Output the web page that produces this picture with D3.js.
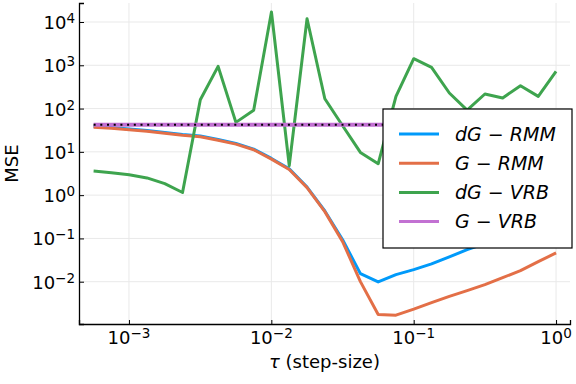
<!DOCTYPE html>
<html>
<head>
<meta charset="utf-8">
<script src="https://cdn.jsdelivr.net/npm/d3@7"></script>
<style>
    body { margin: 0; background: white; }
    text { font-family: "DejaVu Sans", sans-serif; fill: black; }
</style>
</head>
<body>
<div id="chart"></div>
<script>
// step sizes (x values)
var tau = [0.0005644, 0.0007525, 0.001003, 0.001338, 0.001784, 0.002378, 0.003171, 0.004228,
    0.005638, 0.007517, 0.01002, 0.01336, 0.01782, 0.02376, 0.03168, 0.04224, 0.05631, 0.07508,
    0.1001, 0.1335, 0.1780, 0.2373, 0.3164, 0.4219, 0.5625, 0.75, 1.0];

var dgRMM = [38.5, 36.5, 33.8, 31.2, 28.0, 25.2, 23.2, 19.3, 15.7, 11.6, 7.05, 4.05, 1.54, 0.43,
    0.093, 0.0154, 0.00989, 0.0146, 0.0190, 0.0258, 0.0374, 0.0551, 0.0759, 0.104, 0.144, 0.187, 0.244];
var gRMM = [37.2, 35.3, 32.6, 30.1, 27.0, 24.3, 22.4, 18.6, 15.1, 11.2, 6.8, 3.9, 1.49, 0.416,
    0.0844, 0.01005, 0.00174, 0.00169, 0.00233, 0.00329, 0.0046, 0.00623, 0.00857, 0.01244, 0.018, 0.0291, 0.0462];
var dgVRB = [3.6, 3.3, 2.95, 2.5, 1.85, 1.15, 160, 944, 48, 91, 17000, 4.8, 11900, 169,
    40, 9.7, 5.3, 191, 1420, 895, 229, 92, 217, 176, 337, 191, 720];
var gVRB = [42.5, 42.5, 42.5, 42.5, 42.5, 42.5, 42.5, 42.5, 42.5, 42.5, 42.5, 42.5, 42.5, 42.5,
    42.5, 42.5, 42.5, 42.5, 42.5, 42.5, 42.5, 42.5, 42.5, 42.5, 42.5, 42.5, 42.5];
// black dotted reference drawn on top of G-VRB (not in legend)
var refLine = [42.5, 42.5, 42.5, 42.5, 42.5, 42.5, 42.5, 42.5, 42.5, 42.5, 42.5, 42.5, 42.5, 42.5,
    42.5, 42.5, 42.5, 42.5, 42.5, 42.5, 42.5, 42.5, 42.5, 42.5, 42.5, 42.5, 42.5];

var seriesNames = ["dG \u2212 RMM", "G \u2212 RMM", "dG \u2212 VRB", "G \u2212 VRB"];
var seriesColors = ["#009afa", "#e36f47", "#3ea44e", "#c271d2"];

var xTicks = [1e-3, 1e-2, 1e-1, 1];
var xTickExp = ["\u22123", "\u22122", "\u22121", "0"];
var yTicks = [1e-2, 1e-1, 1, 10, 100, 1000, 10000];
var yTickExp = ["\u22122", "\u22121", "0", "1", "2", "3", "4"];

var svgWidth = 576;
var svgHeight = 384;

var margin = {
    top: 3,
    right: 6,
    bottom: 60,
    left: 79
};

var width = svgWidth - margin.left - margin.right;
var height = svgHeight - margin.top - margin.bottom;

var svg = d3.select("#chart")
    .append("svg")
    .attr("width", svgWidth)
    .attr("height", svgHeight);

var chartGroup = svg.append("g")
    .attr("transform", `translate(${margin.left}, ${margin.top})`);

var xLogScale = d3.scaleLog()
    .domain([Math.pow(10, -3.351), Math.pow(10, 0.098)])
    .range([0, width]);

var yLogScale = d3.scaleLog()
    .domain([Math.pow(10, -2.977), Math.pow(10, 4.439)])
    .range([height, 0]);

// grid lines
chartGroup.selectAll(".xgrid")
    .data(xTicks)
    .enter()
    .append("line")
    .attr("x1", d => xLogScale(d))
    .attr("x2", d => xLogScale(d))
    .attr("y1", 0)
    .attr("y2", height)
    .attr("stroke", "#e9e9e9")
    .attr("stroke-width", 1);

chartGroup.selectAll(".ygrid")
    .data(yTicks)
    .enter()
    .append("line")
    .attr("x1", 0)
    .attr("x2", width)
    .attr("y1", d => yLogScale(d))
    .attr("y2", d => yLogScale(d))
    .attr("stroke", "#e9e9e9")
    .attr("stroke-width", 1);

// axes (ticks point inward)
var bottomAxis = d3.axisBottom(xLogScale).tickValues(xTicks).tickSize(-4).tickFormat("");
var leftAxis = d3.axisLeft(yLogScale).tickValues(yTicks).tickSize(-5).tickFormat("");

var xAxisG = chartGroup.append("g")
    .attr("transform", `translate(0, ${height})`)
    .call(bottomAxis);
var yAxisG = chartGroup.append("g")
    .call(leftAxis);

[xAxisG, yAxisG].forEach(function (g) {
    g.select(".domain").attr("stroke", "black").attr("stroke-width", 1.3);
    g.selectAll(".tick line").attr("stroke", "black").attr("stroke-width", 1);
});

// tick labels with superscript exponents
xTicks.forEach(function (t, i) {
    var lab = chartGroup.append("text")
        .attr("x", xLogScale(t))
        .attr("y", height + 20)
        .attr("text-anchor", "middle")
        .style("font-size", "18px");
    lab.append("tspan").text("10");
    lab.append("tspan").attr("dy", -6).style("font-size", "13.5px").text(xTickExp[i]);
});

yTicks.forEach(function (t, i) {
    var lab = chartGroup.append("text")
        .attr("x", -4)
        .attr("y", yLogScale(t) + 7)
        .attr("text-anchor", "end")
        .style("font-size", "18px");
    lab.append("tspan").text("10");
    lab.append("tspan").attr("dy", -6).style("font-size", "13.5px").text(yTickExp[i]);
});

// lines
var allSeries = [dgRMM, gRMM, dgVRB, gVRB];
var widths = [3, 3, 3, 4];

var line = d3.line()
    .x(d => xLogScale(d[0]))
    .y(d => yLogScale(d[1]));

allSeries.forEach(function (vals, i) {
    chartGroup.append("path")
        .datum(d3.zip(tau, vals))
        .attr("fill", "none")
        .attr("stroke", seriesColors[i])
        .attr("stroke-width", widths[i])
        .attr("stroke-linejoin", "round")
        .attr("d", line);
});

chartGroup.append("path")
    .datum(d3.zip(tau, refLine))
    .attr("fill", "none")
    .attr("stroke", "black")
    .attr("stroke-width", 2)
    .attr("stroke-dasharray", "2,4.7")
    .attr("d", line);

// legend
var legend = svg.append("g")
    .attr("transform", "translate(383, 109)");

legend.append("rect")
    .attr("width", 189)
    .attr("height", 139)
    .attr("fill", "white")
    .attr("stroke", "black")
    .attr("stroke-width", 1.2);

seriesNames.forEach(function (name, i) {
    var y = 25 + i * 29.2;
    legend.append("line")
        .attr("x1", 16)
        .attr("x2", 56)
        .attr("y1", y)
        .attr("y2", y)
        .attr("stroke", seriesColors[i])
        .attr("stroke-width", 3);
    legend.append("text")
        .attr("x", 72)
        .attr("y", y)
        .attr("dy", "0.36em")
        .style("font-size", "19px")
        .style("font-style", "italic")
        .text(name);
});

// axis titles
svg.append("text")
    .attr("transform", `translate(18, ${margin.top + height / 2}) rotate(-90)`)
    .attr("text-anchor", "middle")
    .style("font-size", "18px")
    .text("MSE");

var xTitle = svg.append("text")
    .attr("x", margin.left + width / 2)
    .attr("y", 368)
    .attr("text-anchor", "middle")
    .style("font-size", "18px");
xTitle.append("tspan").style("font-style", "italic").text("\u03c4");
xTitle.append("tspan").text(" (step-size)");
</script>
</body>
</html>
